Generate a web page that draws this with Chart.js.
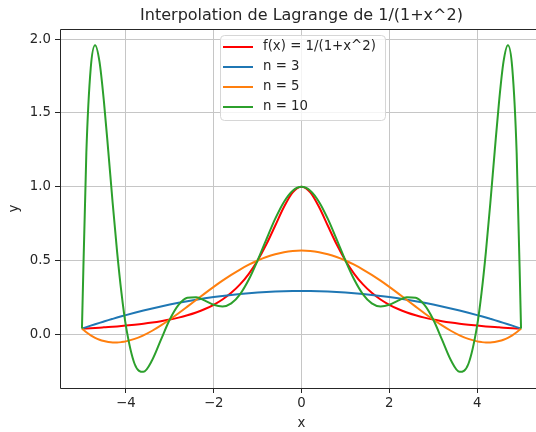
<!DOCTYPE html>
<html>
<head>
<meta charset="utf-8">
<script src="https://cdn.jsdelivr.net/npm/chart.js@4"></script>
<style>
  html, body { margin: 0; padding: 0; overflow: hidden; background: #fff; }
</style>
</head>
<body>
<canvas id="runge" width="560" height="432"></canvas>
<script>
const chartTitle = "Interpolation de Lagrange de 1/(1+x^2)";

const xs = [-5.0, -4.9, -4.8, -4.7, -4.6, -4.5, -4.4, -4.3, -4.2, -4.1, -4.0, -3.8, -3.6, -3.4, -3.2, -3.0, -2.8, -2.6, -2.4, -2.2, -2.0,
  -1.8, -1.6, -1.4, -1.2, -1.0, -0.8, -0.6, -0.4, -0.2, 0, 0.2, 0.4, 0.6, 0.8, 1.0, 1.2, 1.4, 1.6, 1.8, 2.0,
  2.2, 2.4, 2.6, 2.8, 3.0, 3.2, 3.4, 3.6, 3.8, 4.0, 4.1, 4.2, 4.3, 4.4, 4.5, 4.6, 4.7, 4.8, 4.9, 5.0];

// f(x) = 1/(1+x^2)
const fExact = [0.0385, 0.0400, 0.0416, 0.0433, 0.0451, 0.0471, 0.0491, 0.0513, 0.0536, 0.0561, 0.0588, 0.0648, 0.0716, 0.0796, 0.0890, 0.1000,
  0.1131, 0.1289, 0.1479, 0.1712, 0.2000, 0.2358, 0.2809, 0.3378, 0.4098, 0.5000, 0.6098, 0.7353, 0.8621, 0.9615,
  1.0000,
  0.9615, 0.8621, 0.7353, 0.6098, 0.5000, 0.4098, 0.3378, 0.2809, 0.2358, 0.2000, 0.1712, 0.1479, 0.1289, 0.1131,
  0.1000, 0.0890, 0.0796, 0.0716, 0.0648, 0.0588, 0.0561, 0.0536, 0.0513, 0.0491, 0.0471, 0.0451, 0.0433, 0.0416, 0.0400, 0.0385];

// n = 3
const interp3 = [0.0385, 0.0485, 0.0584, 0.0681, 0.0776, 0.0868, 0.0959, 0.1047, 0.1134, 0.1219, 0.1301, 0.1460, 0.1610, 0.1753, 0.1887, 0.2014,
  0.2132, 0.2242, 0.2343, 0.2437, 0.2523, 0.2600, 0.2669, 0.2730, 0.2783, 0.2828, 0.2865, 0.2893, 0.2914, 0.2926,
  0.2930,
  0.2926, 0.2914, 0.2893, 0.2865, 0.2828, 0.2783, 0.2730, 0.2669, 0.2600, 0.2523, 0.2437, 0.2343, 0.2242, 0.2132,
  0.2014, 0.1887, 0.1753, 0.1610, 0.1460, 0.1301, 0.1219, 0.1134, 0.1047, 0.0959, 0.0868, 0.0776, 0.0681, 0.0584, 0.0485, 0.0385];

// n = 5
const interp5 = [0.0385, 0.0137, -0.0069, -0.0236, -0.0366, -0.0460, -0.0522, -0.0553, -0.0555, -0.0530, -0.0481, -0.0314, -0.0069, 0.0240, 0.0600, 0.1000,
  0.1427, 0.1872, 0.2323, 0.2773, 0.3212, 0.3632, 0.4027, 0.4390, 0.4716, 0.5000, 0.5238, 0.5426, 0.5563, 0.5645,
  0.5673,
  0.5645, 0.5563, 0.5426, 0.5238, 0.5000, 0.4716, 0.4390, 0.4027, 0.3632, 0.3212, 0.2773, 0.2323, 0.1872, 0.1427,
  0.1000, 0.0600, 0.0240, -0.0069, -0.0314, -0.0481, -0.0530, -0.0555, -0.0553, -0.0522, -0.0460, -0.0366, -0.0236, -0.0069, 0.0137, 0.0385];

// n = 10
const interp10 = [0.0385, 1.2303, 1.8044, 1.9590, 1.8459, 1.5787, 1.2402, 0.8881, 0.5605, 0.2802, 0.0588, -0.2013, -0.2546, -0.1743, -0.0363, 0.1000,
  0.1987, 0.2472, 0.2510, 0.2278, 0.2000, 0.1888, 0.2099, 0.2710, 0.3708, 0.5000, 0.6432, 0.7818, 0.8971, 0.9734,
  1.0000,
  0.9734, 0.8971, 0.7818, 0.6432, 0.5000, 0.3708, 0.2710, 0.2099, 0.1888, 0.2000, 0.2278, 0.2510, 0.2472, 0.1987,
  0.1000, -0.0363, -0.1743, -0.2546, -0.2013, 0.0588, 0.2802, 0.5605, 0.8881, 1.2402, 1.5787, 1.8459, 1.9590, 1.8044, 1.2303, 0.0385];

const seriesLabels = ["f(x) = 1/(1+x^2)", "n = 3", "n = 5", "n = 10"];
const xTicks = [-4, -2, 0, 2, 4];
const yTicks = [0, 0.5, 1, 1.5, 2];

const FONT = "'DejaVu Sans', sans-serif";
const ink = "#262626";

let toPoints = arr => arr.map((y, i) => ({ x: xs[i], y: y }));

const decor = {
  id: "decor",
  beforeDraw(chart) {
    const c = chart.ctx;
    c.save();
    c.fillStyle = "#fff";
    c.fillRect(0, 0, chart.width, chart.height);
    c.restore();
  },
  afterDatasetsDraw(chart) {
    const c = chart.ctx;
    const a = chart.chartArea;
    const l = Math.round(a.left) + 0.5, t = Math.round(a.top) + 0.5, b = Math.round(a.bottom) + 0.5;
    c.save();
    // spines (the right one sits past the edge of the window)
    c.strokeStyle = ink;
    c.lineWidth = 1;
    c.beginPath();
    c.moveTo(chart.width, t);
    c.lineTo(l, t);
    c.lineTo(l, b);
    c.lineTo(chart.width, b);
    c.stroke();

    // title, centred on the axes
    const mid = (a.left + a.right) / 2;
    c.fillStyle = ink;
    c.font = "16px " + FONT;
    c.textAlign = "center";
    c.textBaseline = "middle";
    c.fillText(chartTitle, mid, 16);

    // legend box
    const bx = a.left + 160, by = a.top + 6, bw = 165, bh = 85;
    c.beginPath();
    c.roundRect(bx + 0.5, by + 0.5, bw, bh, 4);
    c.fillStyle = "rgba(255,255,255,0.8)";
    c.fill();
    c.strokeStyle = "#d6d6d6";
    c.stroke();
    c.font = "13.3px " + FONT;
    c.textAlign = "left";
    chart.data.datasets.forEach((ds, i) => {
      const ry = by + 12 + i * 20;
      c.beginPath();
      c.moveTo(bx + 3, ry);
      c.lineTo(bx + 33, ry);
      c.strokeStyle = ds.borderColor;
      c.lineWidth = 2;
      c.stroke();
      c.fillStyle = ink;
      c.fillText(ds.label, bx + 43, ry);
    });
    c.restore();
  }
};

const ctx = document.getElementById("runge");

const rungeChart = new Chart(ctx, {
  type: "line",
  data: {
    datasets: [
      { label: seriesLabels[0], data: toPoints(fExact), borderColor: "#ff0000", order: 4 },
      { label: seriesLabels[1], data: toPoints(interp3), borderColor: "#1f77b4", order: 3 },
      { label: seriesLabels[2], data: toPoints(interp5), borderColor: "#ff7f0e", order: 2 },
      { label: seriesLabels[3], data: toPoints(interp10), borderColor: "#2ca02c", order: 1 }
    ]
  },
  options: {
    responsive: false,
    animation: false,
    parsing: false,
    elements: {
      point: { radius: 0 },
      line: { borderWidth: 2, cubicInterpolationMode: "monotone", fill: false }
    },
    layout: {
      autoPadding: false,
      padding: { left: 0, right: 17, top: 29, bottom: 0 }
    },
    plugins: {
      legend: { display: false },
      tooltip: { enabled: false },
      title: { display: false }
    },
    scales: {
      x: {
        type: "linear",
        min: -5.5,
        max: 5.5,
        afterBuildTicks: scale => {
          scale.ticks = xTicks.map(v => ({ value: v }));
        },
        afterFit: scale => {
          scale.height = 44;
        },
        ticks: {
          color: ink,
          padding: 3,
          font: { family: FONT, size: 13.3 },
          callback: v => (v < 0 ? "\u2212" + Math.abs(v) : String(v))
        },
        grid: { color: "#c6c6c6", lineWidth: 1, tickLength: 5, tickColor: ink },
        border: { display: false },
        title: {
          display: true,
          text: "x",
          color: ink,
          font: { family: FONT, size: 13.3 },
          padding: { top: 0, bottom: 0 }
        }
      },
      y: {
        type: "linear",
        min: -0.364,
        max: 2.069,
        afterBuildTicks: scale => {
          scale.ticks = yTicks.map(v => ({ value: v }));
        },
        afterFit: scale => {
          scale.width = 60;
        },
        ticks: {
          color: ink,
          padding: 4,
          font: { family: FONT, size: 13.3 },
          callback: v => v.toFixed(1)
        },
        grid: { color: "#c6c6c6", lineWidth: 1, tickLength: 5, tickColor: ink },
        border: { display: false },
        title: {
          display: true,
          text: "y",
          color: ink,
          font: { family: FONT, size: 13.3 },
          padding: { top: 7, bottom: 0 }
        }
      }
    }
  },
  plugins: [decor]
});
</script>
</body>
</html>
